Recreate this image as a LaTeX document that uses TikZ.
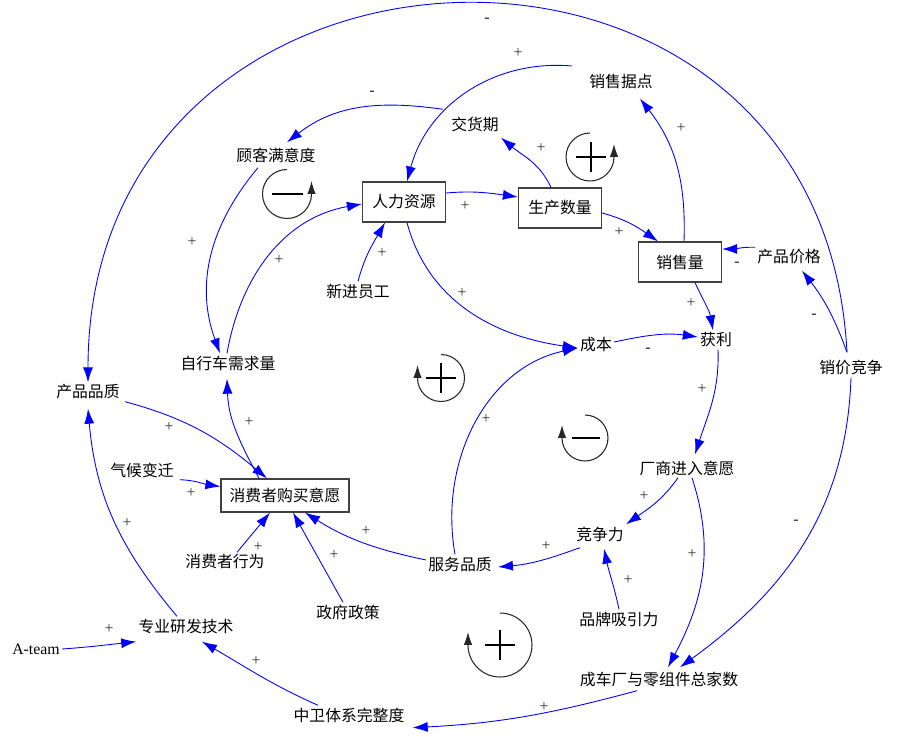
\documentclass[tikz,border=0pt]{standalone}
\usepackage{fontspec}
\setmainfont{Liberation Serif}
\newfontfamily\cjk{Noto Sans CJK SC}
\usetikzlibrary{arrows.meta}

\tikzset{
	var/.style={font=\cjk\fontsize{9}{9}\selectfont, inner sep=0.04cm},
	box/.style={var, draw=black!75, line width=0.7pt, minimum width=1.66cm, minimum height=0.8cm},
	link/.style={draw=blue, line width=0.5pt, -{Latex[length=0.3cm,width=0.2cm]}},
	sgn/.style={font=\fontsize{9}{9}\selectfont, text=black!80, inner sep=0pt},
	loopline/.style={draw=black!85, line width=0.6pt, -{Latex[length=0.26cm,width=0.17cm]}},
	loopsign/.style={line width=1.4pt}
}

\begin{document}
\begin{tikzpicture}[x=0.02cm,y=-0.02cm]
	\useasboundingbox (0,0) rectangle (903,737);

	\node[box] (hr) at (404,202) {人力资源};
	\node[box] (prod) at (560,208) {生产数量};
	\node[box] (sales) at (680,262) {销售量};
	\node[box, minimum width=2.56cm, minimum height=0.66cm] (purchase) at (285,495.5) {消费者购买意愿};

	\node[var] (satisf) at (276,155) {顾客满意度};
	\node[var] (delivery) at (475,124) {交货期};
	\node[var] (outlets) at (621,81) {销售据点};
	\node[var] (price) at (789,257) {产品价格};
	\node[var] (pricewar) at (851,368) {销价竞争};
	\node[var] (profit) at (716,340) {获利};
	\node[var] (cost) at (596,345) {成本};
	\node[var] (newstaff) at (358,291) {新进员工};
	\node[var] (demand) at (228,363) {自行车需求量};
	\node[var] (quality) at (88,392) {产品品质};
	\node[var] (climate) at (142,470) {气候变迁};
	\node[var] (behavior) at (225,562) {消费者行为};
	\node[var] (gov) at (348,612) {政府政策};
	\node[var] (rnd) at (186,626) {专业研发技术};
	\node[font=\fontsize{9}{9}\selectfont, inner sep=0.04cm] (ateam) at (36,649) {A-team};
	\node[var] (zhongwei) at (349,715) {中卫体系完整度};
	\node[var] (service) at (460,564) {服务品质};
	\node[var] (comp) at (600,534) {竞争力};
	\node[var] (entry) at (687,468) {厂商进入意愿};
	\node[var] (brand) at (619,619) {品牌吸引力};
	\node[var] (total) at (659,679) {成车厂与零组件总家数};

	\path ([yshift=0.18cm]hr.east) edge[link,out=5,in=172] ([yshift=0.22cm]prod.west);
	\path ([yshift=-0.1cm]prod.east) edge[link,out=-15,in=145] ([xshift=-0.44cm]sales.north);
	\path ([xshift=-0.18cm]prod.north) edge[link,out=115,in=-40] ([yshift=-0.08cm]delivery.south east);
	\path ([xshift=0.08cm]sales.north) edge[link,out=88,in=-52] ([xshift=0.38cm,yshift=-0.16cm]outlets.south);
	\path ([xshift=-0.3cm,yshift=0.3cm]outlets.west) edge[link,out=175,in=75] ([xshift=0.06cm]hr.north);
	\path ([xshift=-0.12cm,yshift=0.1cm]delivery.north west) edge[link,out=172,in=38] ([xshift=0.22cm,yshift=0.06cm]satisf.north);
	\path ([xshift=-0.36cm,yshift=-0.06cm]satisf.south) edge[link,out=-130,in=110] ([xshift=-0.16cm]demand.north);
	\path ([xshift=-0.02cm]demand.north) edge[link,out=80,in=190] ([yshift=-0.04cm]hr.west);
	\path (newstaff.north) edge[link,out=75,in=-120] ([xshift=-0.38cm]hr.south);
	\path ([xshift=0.06cm]hr.south) edge[link,out=-75,in=172] ([yshift=-0.06cm]cost.west);
	\path ([xshift=-0.1cm]service.north) edge[link,out=100,in=192] ([yshift=-0.06cm]cost.west);
	\path ([yshift=0.06cm]cost.east) edge[link,out=12,in=172] ([yshift=0.06cm]profit.west);
	\path ([xshift=0.3cm]sales.south) edge[link,out=-65,in=100] ([xshift=-0.06cm]profit.north);
	\path (price.north west) edge[link,out=178,in=0] ([yshift=0.26cm]sales.east);
	\path ([xshift=-0.08cm,yshift=0.12cm]pricewar.north) edge[link,out=110,in=-52] ([xshift=0.26cm,yshift=-0.08cm]price.south);
	\path ([xshift=-0.08cm,yshift=0.12cm]pricewar.north) edge[link,out=93,in=90,looseness=1.63] (quality.north);
	\path ([xshift=0.04cm]profit.south) edge[link,out=-88,in=72] ([xshift=0.16cm,yshift=0.08cm]entry.north);
	\path ([xshift=-0.18cm]entry.south) edge[link,out=-125,in=35] (comp.north east);
	\path ([xshift=0.1cm]entry.south) edge[link,out=-72,in=62] ([xshift=0.18cm,yshift=0.04cm]total.north);
	\path (pricewar.south) edge[link,out=-92,in=36] ([xshift=0.42cm,yshift=0.04cm]total.north);
	\path ([xshift=0.12cm,yshift=-0.08cm]comp.south west) edge[link,out=-160,in=5] ([xshift=0.08cm,yshift=-0.06cm]service.east);
	\path (brand.north) edge[link,out=102,in=-78] ([xshift=0.08cm,yshift=-0.1cm]comp.south);
	\path ([yshift=0.08cm]service.west) edge[link,out=168,in=-32] ([xshift=0.4cm]purchase.south);
	\path ([xshift=-0.1cm]gov.north) edge[link] ([xshift=0.16cm]purchase.south);
	\path ([xshift=0.24cm]behavior.north) edge[link] ([xshift=-0.3cm]purchase.south);
	\path ([xshift=0.08cm]climate.south east) edge[link,out=-2,in=172] ([yshift=0.18cm]purchase.west);
	\path ([xshift=0.06cm]quality.south east) edge[link,out=-15,in=140] ([xshift=-0.36cm]purchase.north);
	\path ([xshift=-0.52cm]purchase.north) edge[link,out=118,in=-88] ([xshift=-0.02cm,yshift=-0.12cm]demand.south);
	\path ([xshift=-0.18cm]rnd.north) edge[link,out=130,in=-85] ([yshift=-0.14cm]quality.south);
	\path (ateam.east) edge[link,out=4,in=186] ([yshift=-0.12cm]rnd.south west);
	\path ([xshift=-0.62cm]zhongwei.north) edge[link,out=156,in=-30] ([xshift=0.32cm,yshift=-0.12cm]rnd.south);
	\path ([xshift=-0.44cm,yshift=-0.04cm]total.south) edge[link,out=-165,in=3] ([xshift=0.12cm,yshift=-0.06cm]zhongwei.south east);

	\node[sgn] (s1) at (465,206) {+};
	\node[sgn] (s2) at (619,232) {+};
	\node[sgn] (s3) at (541,148) {+};
	\node[sgn] (s4) at (681,128) {+};
	\node[sgn] (s5) at (518,53) {+};
	\node[sgn] (s6) at (372,93) {\textbf{-}};
	\node[sgn] (s7) at (192,242) {+};
	\node[sgn] (s8) at (279,260) {+};
	\node[sgn] (s9) at (382,253) {+};
	\node[sgn] (s10) at (462,293) {+};
	\node[sgn] (s11) at (486,419) {+};
	\node[sgn] (s12) at (648,350) {\textbf{-}};
	\node[sgn] (s13) at (691,303) {+};
	\node[sgn] (s14) at (737,264) {\textbf{-}};
	\node[sgn] (s15) at (814,316) {\textbf{-}};
	\node[sgn] (s16) at (487,20) {\textbf{-}};
	\node[sgn] (s17) at (702,389) {+};
	\node[sgn] (s18) at (644,496) {+};
	\node[sgn] (s19) at (692,554) {+};
	\node[sgn] (s20) at (796,522) {\textbf{-}};
	\node[sgn] (s21) at (546,546) {+};
	\node[sgn] (s22) at (628,580) {+};
	\node[sgn] (s23) at (366,531) {+};
	\node[sgn] (s24) at (334,555) {+};
	\node[sgn] (s25) at (258,547) {+};
	\node[sgn] (s26) at (191,493) {+};
	\node[sgn] (s27) at (169,427) {+};
	\node[sgn] (s28) at (249,422) {+};
	\node[sgn] (s29) at (127,523) {+};
	\node[sgn] (s30) at (109,629) {+};
	\node[sgn] (s31) at (256,661) {+};
	\node[sgn] (s32) at (544,707) {+};

	\draw[loopline] (287,169.5) arc[start angle=90,end angle=360,radius=0.49cm] -- ++(0,-13);
	\draw[loopsign] (272,194) -- (303,194);
	\draw[loopline] (590,133) arc[start angle=90,end angle=360,radius=0.48cm] -- ++(0,-13);
	\draw[loopsign] (576,157) -- (606,157) (591,142) -- (591,172);
	\draw[loopline] (441,354.5) arc[start angle=90,end angle=-180,radius=0.47cm] -- ++(0,-13);
	\draw[loopsign] (426,378) -- (456,378) (441,363) -- (441,393);
	\draw[loopline] (585,415) arc[start angle=90,end angle=-180,radius=0.46cm] -- ++(0,-13);
	\draw[loopsign] (572,438) -- (600,438);
	\draw[loopline] (500,613) arc[start angle=90,end angle=-180,radius=0.64cm] -- ++(0,-13);
	\draw[loopsign] (485,645) -- (515,645) (500,630) -- (500,660);
\end{tikzpicture}
\end{document}
